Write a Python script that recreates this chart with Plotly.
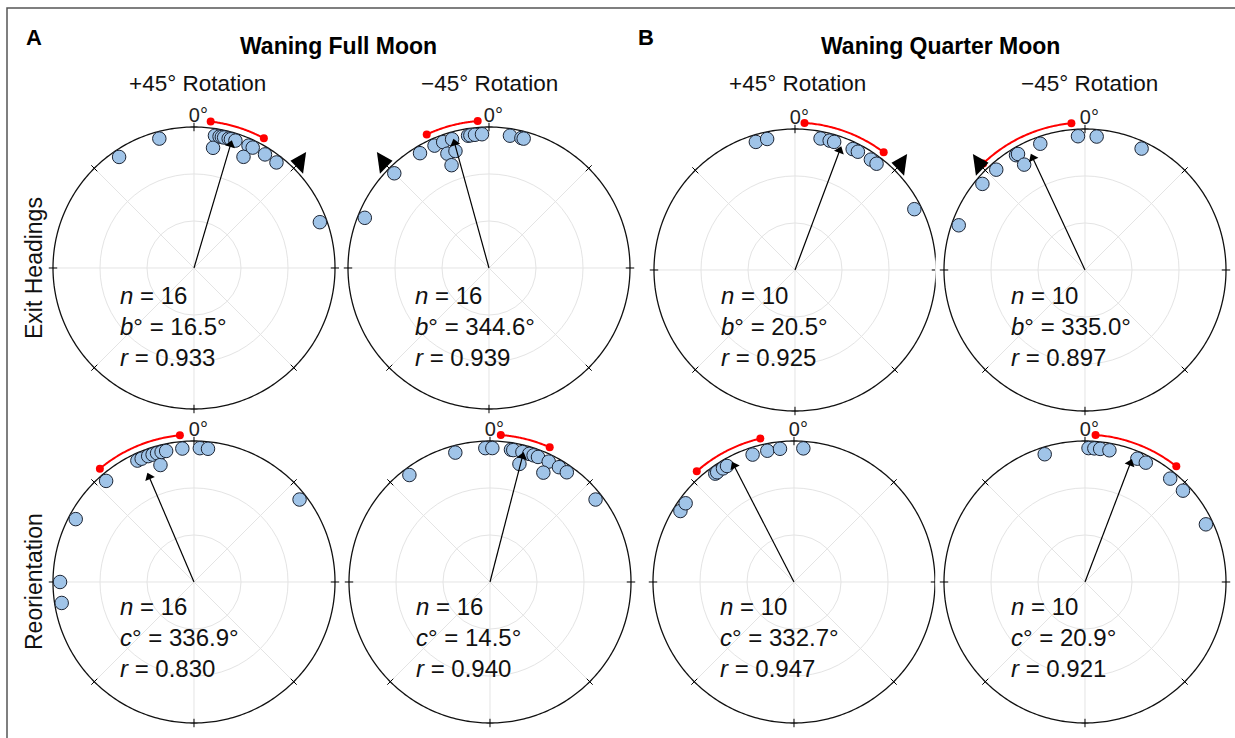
import numpy as np
import plotly.graph_objects as go

# ---------------- data ----------------
# headings (degrees, clockwise from 0 = north); repeated values are stacked inward
full_plus_exit = [345, 326, 9, 9, 11, 12, 13, 15, 16, 18, 24, 24, 26, 32, 38, 70]
full_minus_exit = [292, 315, 329, 336, 340, 340, 340, 344, 344, 351, 352, 354, 357, 9, 14, 15]
quarter_plus_exit = [343, 348, 11, 15, 17, 25.5, 28, 34.5, 37.5, 63]
quarter_minus_exit = [289.5, 310, 318.5, 329, 330, 330, 340.5, 357, 5, 25]
full_plus_reor = [270, 261, 298, 319, 335, 337, 340, 342, 344, 344, 346, 348, 355, 2.5, 6, 52]
full_minus_reor = [323, 345, 358, 1, 9, 10, 14, 14, 17, 19, 21, 26, 26, 31, 35, 52]
quarter_plus_reor = [302, 306, 324, 325, 328, 330, 342, 348.5, 354, 4]
quarter_minus_reor = [342.5, 1.5, 4, 6.5, 10.5, 23, 27, 39.5, 47, 64.5]

headings = [full_plus_exit, full_minus_exit, quarter_plus_exit, quarter_minus_exit,
            full_plus_reor, full_minus_reor, quarter_plus_reor, quarter_minus_reor]
n_values = [16, 16, 10, 10, 16, 16, 10, 10]
mean_symbol = ["b", "b", "b", "b", "c", "c", "c", "c"]
mean_angles = [16.5, 344.6, 20.5, 335.0, 336.9, 14.5, 332.7, 20.9]
mean_r = [0.933, 0.939, 0.925, 0.897, 0.830, 0.940, 0.947, 0.921]
ci_low = [6.5, 335.0, 3.7, 316.3, 320.3, 4.2, 318.7, 4.1]
ci_high = [28.3, 355.6, 37.0, 354.7, 354.5, 23.9, 346.8, 38.3]
expected_dir = [45, 315, 45, 315, None, None, None, None]

moon_titles = ["Waning Full Moon", "Waning Quarter Moon"]
panel_letters = ["A", "B"]
rotation_labels = ["+45° Rotation", "\u221245° Rotation", "+45° Rotation", "\u221245° Rotation"]
row_labels = ["Exit Headings", "Reorientation"]
grid_angles = [0, 45, 90, 135, 180, 225, 270, 315]

# ---------------- layout geometry ----------------
W, H = 1235, 738
R = 141
RMAX = 1.063
centers = [(194, 268), (489, 268), (795, 270), (1085, 270),
           (194, 582), (490, 582), (794, 582), (1085, 582)]
FONT = "Liberation Sans, Arial, sans-serif"

fig = go.Figure()
layout = {}

for i, (cx, cy) in enumerate(centers):
    pid = "polar" if i == 0 else f"polar{i + 1}"
    half = R * RMAX
    layout[pid] = dict(
        domain=dict(x=[max(0, (cx - half) / W), min(1, (cx + half) / W)],
                    y=[max(0, 1 - (cy + half) / H), min(1, 1 - (cy - half) / H)]),
        bgcolor="white",
        angularaxis=dict(rotation=90, direction="clockwise", showline=False,
                         showgrid=False, showticklabels=False, ticks=""),
        radialaxis=dict(range=[0, RMAX], tickvals=[1 / 3, 2 / 3], showticklabels=False,
                        showline=False, ticks="", gridcolor="#e4e4e4", gridwidth=1),
    )

    # angular spokes (grid)
    sr, st = [], []
    for a in grid_angles:
        sr += [0, 1, None]
        st += [a, a, None]
    fig.add_trace(go.Scatterpolar(r=sr, theta=st, mode="lines", subplot=pid,
                                  line=dict(color="#e4e4e4", width=1), hoverinfo="skip"))
    # outer circle
    circ = np.linspace(0, 360, 361)
    fig.add_trace(go.Scatterpolar(r=np.ones_like(circ), theta=circ, mode="lines", subplot=pid,
                                  line=dict(color="#111", width=1.3), hoverinfo="skip"))
    # tick crosses
    tr, tt = [], []
    for a in grid_angles:
        tr += [0.97, 1.03, None]
        tt += [a, a, None]
    fig.add_trace(go.Scatterpolar(r=tr, theta=tt, mode="lines", subplot=pid,
                                  line=dict(color="black", width=1), hoverinfo="skip"))
    # 0° label
    fig.add_trace(go.Scatterpolar(r=[1.0], theta=[1.8], mode="text", text=["0°"], subplot=pid,
                                  textposition="top center", cliponaxis=False,
                                  textfont=dict(family=FONT, size=20, color="#222"),
                                  hoverinfo="skip"))
    # 95% CI arc
    lo, hi = ci_low[i], ci_high[i]
    if hi < lo:
        hi += 360
    arc = np.linspace(lo, hi, 60)
    fig.add_trace(go.Scatterpolar(r=np.full_like(arc, 1.045), theta=arc, mode="lines", subplot=pid,
                                  line=dict(color="#ff0000", width=2), cliponaxis=False,
                                  hoverinfo="skip"))
    fig.add_trace(go.Scatterpolar(r=[1.045, 1.045], theta=[lo, hi], mode="markers", subplot=pid,
                                  marker=dict(color="#ff0000", size=8), cliponaxis=False,
                                  hoverinfo="skip"))
    # data points with stacking of repeated headings
    seen = {}
    pr, pt = [], []
    for a in headings[i]:
        lvl = seen.get(a, 0)
        seen[a] = lvl + 1
        pr.append(0.95 - 0.087 * lvl)
        pt.append(a)
    fig.add_trace(go.Scatterpolar(r=pr, theta=pt, mode="markers", subplot=pid,
                                  marker=dict(size=13.5, color="#a0c4e8",
                                              line=dict(color="#1c2433", width=1)),
                                  cliponaxis=False))
    # mean vector
    fig.add_trace(go.Scatterpolar(r=[0, mean_r[i] - 0.02], theta=[mean_angles[i], mean_angles[i]],
                                  mode="lines", subplot=pid,
                                  line=dict(color="black", width=1.2), hoverinfo="skip"))
    fig.add_trace(go.Scatterpolar(r=[mean_r[i] - 0.02], theta=[mean_angles[i]], mode="markers",
                                  subplot=pid,
                                  marker=dict(symbol="triangle-up", size=9, color="black",
                                              angle=mean_angles[i], angleref="up"),
                                  cliponaxis=False, hoverinfo="skip"))
    # expected direction triangle (pointing horizontally toward the circle)
    if expected_dir[i] is not None:
        tri_angle = 278 if expected_dir[i] < 180 else 82
        fig.add_trace(go.Scatterpolar(r=[RMAX - 0.001], theta=[expected_dir[i]], mode="markers",
                                      subplot=pid,
                                      marker=dict(symbol="triangle-up", size=19, color="black",
                                                  angle=tri_angle, angleref="up"),
                                      cliponaxis=False, hoverinfo="skip"))

annotations = []
# statistics text
for i, (cx, cy) in enumerate(centers):
    ytxt = 326 if i < 4 else 637
    mean_txt = f"{mean_angles[i]:.1f}°"
    txt = (f"<i>n</i> = {n_values[i]}<br><i>{mean_symbol[i]}</i>° = {mean_txt}"
           f"<br><i>r</i> = {mean_r[i]:.3f}")
    annotations.append(dict(x=(cx - 76) / W, y=1 - ytxt / H, xref="paper", yref="paper",
                            text=txt, showarrow=False, xanchor="left", yanchor="middle",
                            align="left", font=dict(family=FONT, size=24, color="#111")))

# headers
for k, (lx, tx) in enumerate([(34, 338), (646, 941)]):
    annotations.append(dict(x=lx / W, y=1 - 38 / H, xref="paper", yref="paper",
                            xanchor="center", yanchor="middle",
                            text=f"<b>{panel_letters[k]}</b>", showarrow=False,
                            font=dict(family=FONT, size=22, color="black")))
    annotations.append(dict(x=tx / W, y=1 - 46 / H, xref="paper", yref="paper",
                            xanchor="center", yanchor="middle",
                            text=f"<b>{moon_titles[k]}</b>", showarrow=False,
                            font=dict(family=FONT, size=23, color="black")))
rot_x = [197, 489, 797, 1089]
for j in range(4):
    annotations.append(dict(x=rot_x[j] / W, y=1 - 83 / H, xref="paper", yref="paper",
                            xanchor="center", yanchor="middle",
                            text=rotation_labels[j], showarrow=False,
                            font=dict(family=FONT, size=22.5, color="#111")))
for k, yy in enumerate([268, 582]):
    annotations.append(dict(x=34 / W, y=1 - yy / H, xref="paper", yref="paper",
                            xanchor="center", yanchor="middle",
                            text=row_labels[k], showarrow=False, textangle=-90,
                            font=dict(family=FONT, size=23, color="#111")))

fig.update_layout(
    width=W, height=H, autosize=False,
    margin=dict(l=0, r=0, t=0, b=0),
    paper_bgcolor="white",
    showlegend=False,
    annotations=annotations,
    shapes=[dict(type="rect", xref="paper", yref="paper",
                 x0=7 / W, x1=1.01, y0=-0.01, y1=1 - 8 / H,
                 line=dict(color="#555", width=1.5))],
    **layout,
)

fig.write_html("out.html")
